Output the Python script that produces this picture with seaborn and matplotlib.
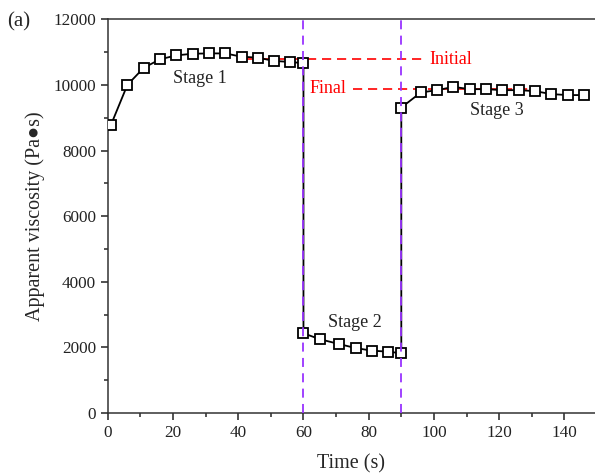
import matplotlib
matplotlib.use("Agg")
import matplotlib.pyplot as plt
import seaborn as sns
import pandas as pd
from matplotlib.ticker import MultipleLocator

# ---- data ----
time_s = [1, 6, 11, 16, 21, 26, 31, 36, 41, 46, 51, 56, 60,
          60, 65, 71, 76, 81, 86, 90,
          90, 96, 101, 106, 111, 116, 121, 126, 131, 136, 141, 146]
viscosity = [8790, 10000, 10520, 10780, 10900, 10950, 10960, 10960, 10860, 10830, 10730, 10700, 10660,
             2430, 2250, 2100, 1980, 1900, 1870, 1820,
             9310, 9770, 9840, 9940, 9870, 9870, 9840, 9840, 9810, 9720, 9690, 9690]
stage_bounds = [60, 90]
initial_level = 10780
final_level = 9890
stage_labels = ["Stage 1", "Stage 2", "Stage 3"]
stage_label_pos = [(28.4, 10200), (75.8, 2750), (119.2, 9230)]

df = pd.DataFrame({"Time (s)": time_s, "visc": viscosity})

sns.set_theme(style="ticks")
plt.rcParams["font.family"] = ["Liberation Serif", "DejaVu Serif"]

fig = plt.figure(figsize=(5.95, 4.75), dpi=100)
ax = fig.add_axes([0.1812, 0.1305, 0.8188, 0.8289])

sns.lineplot(data=df, x="Time (s)", y="visc", estimator=None, sort=False,
             color="black", linewidth=1.3, marker="s", markersize=7.6,
             markerfacecolor="white", markeredgecolor="black", markeredgewidth=1.3,
             ax=ax, zorder=3)

for xb in stage_bounds:
    ax.axvline(xb, color="#9933FF", linestyle=(0, (5, 3.5)), linewidth=1.3, zorder=4)

ax.plot([42.6, 96.7], [initial_level, initial_level], color="red",
        linestyle=(0, (5.5, 3.5)), linewidth=1.2, zorder=2)
ax.plot([75.2, 128.8], [final_level, final_level], color="red",
        linestyle=(0, (5.5, 3.5)), linewidth=1.2, zorder=2)
ax.text(98.5, initial_level, "Initial", color="red", fontsize=13, va="center", ha="left")
ax.text(73.3, final_level, "Final", color="red", fontsize=13, va="center", ha="right")

for lab, (lx, ly) in zip(stage_labels, stage_label_pos):
    ax.text(lx, ly, lab, fontsize=13, ha="center", va="center", color="#222222")

ax.set_xlim(0, 149.4)
ax.set_ylim(0, 12000)
ax.xaxis.set_major_locator(MultipleLocator(20))
ax.xaxis.set_minor_locator(MultipleLocator(10))
ax.yaxis.set_major_locator(MultipleLocator(2000))
ax.yaxis.set_minor_locator(MultipleLocator(1000))
ax.tick_params(which="major", direction="out", length=5, width=1.1, labelsize=12.3, colors="#222222")
ax.tick_params(which="minor", direction="out", length=3, width=1.1)
for s in ["left", "bottom", "top"]:
    ax.spines[s].set_linewidth(1.1)
    ax.spines[s].set_color("#333333")
ax.spines["right"].set_visible(False)

ax.set_xlabel("Time (s)", fontsize=14.5, labelpad=10)
ax.set_ylabel("Apparent viscosity (Pa\u25cfs)", fontsize=14.5, labelpad=6,
              family=["Liberation Serif", "DejaVu Sans"])

fig.text(0.012, 0.955, "(a)", fontsize=15, ha="left", va="center")

fig.savefig("out.png", dpi=100)
